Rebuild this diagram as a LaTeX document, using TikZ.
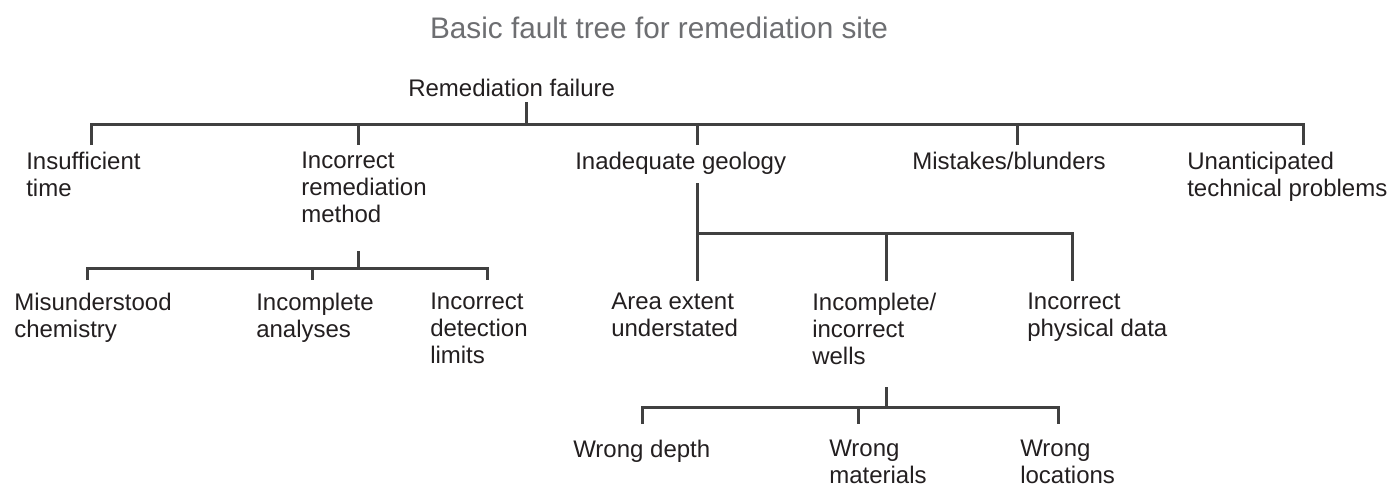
\documentclass[tikz,border=0pt]{standalone}
\usepackage{fontspec}
\setmainfont{Liberation Sans}
\usetikzlibrary{positioning}
\definecolor{ftink}{HTML}{231F20}
\definecolor{ftline}{HTML}{404040}
\definecolor{fttitle}{HTML}{6D6E71}
\tikzset{
  ft label/.style={
    anchor=north west,inner sep=0pt,align=left,text=ftink,
    font=\fontsize{18}{20.25}\selectfont
  },
  ft title/.style={
    anchor=base,inner sep=0pt,text=fttitle,
    font=\fontsize{22.3}{26}\selectfont
  },
  ft edge/.style={ftline,line width=2.25pt,line join=miter}
}

\begin{document}
\begin{tikzpicture}[x=0.75pt,y=-0.75pt]
  \useasboundingbox (0,0) rectangle (1390,501);
  \node[ft title] (title) at (659,38) {Basic fault tree for remediation site};
  \node[ft label] (fail) at (408,79) {Remediation failure};
  % first level
  \node[ft label] (time) at (26,152) {Insufficient\\time};
  \node[ft label] (method) at (301,152) {Incorrect\\remediation\\method};
  \node[ft label] (geology) at (575,152) {Inadequate geology};
  \node[ft label] (blunder) at (912,152) {Mistakes/blunders};
  \node[ft label] (unant) at (1187,152) {Unanticipated\\technical problems};
  % second level
  \node[ft label] (chem) at (14,293) {Misunderstood\\chemistry};
  \node[ft label] (analys) at (256,293) {Incomplete\\analyses};
  \node[ft label] (detect) at (430,293) {Incorrect\\detection\\limits};
  \node[ft label] (area) at (611,293) {Area extent\\understated};
  \node[ft label] (wells) at (812,293) {Incomplete/\\incorrect\\wells};
  \node[ft label] (phys) at (1027,293) {Incorrect\\physical data};
  % third level
  \node[ft label] (depth) at (573,440) {Wrong depth};
  \node[ft label] (mater) at (829,440) {Wrong\\materials};
  \node[ft label] (locat) at (1020,440) {Wrong\\locations};
  % bars
  \coordinate (fail bar) at (526,124);
  \coordinate (method bar) at (358,268);
  \coordinate (geology bar) at (697,233);
  \coordinate (wells bar) at (886,407);
  \draw[ft edge] (fail bar) -- ++(0,-22);
  \draw[ft edge] (time.north -| 91,0) ++(0,-7) |- (fail bar) -| (1303,145);
  \draw[ft edge] (fail bar) -| (358,145) (fail bar) -| (697,145)
    (fail bar) -| (1017,145);
  \draw[ft edge] (method bar) -- ++(0,-17);
  \draw[ft edge] (87,280) |- (method bar) -| (487,280)
    (method bar) -| (312,280);
  \draw[ft edge] (697,183) -- (697,281);
  \draw[ft edge] (geology bar) -| (1072,281) (geology bar) -| (886,281);
  \draw[ft edge] (wells bar) -- ++(0,-20);
  \draw[ft edge] (642,424) |- (wells bar) -| (1058,424)
    (wells bar) -| (858,424);
\end{tikzpicture}
\end{document}
